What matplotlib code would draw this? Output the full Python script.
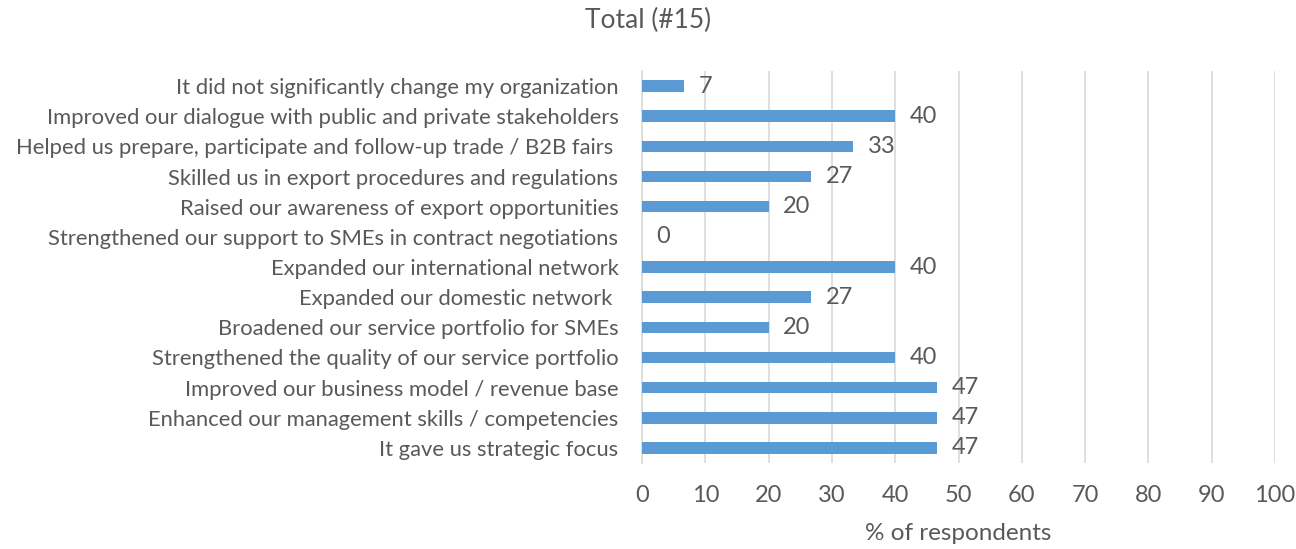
import matplotlib
matplotlib.use("Agg")
import matplotlib.pyplot as plt

plt.rcParams['font.family'] = ['Lato', 'DejaVu Sans']

categories = [
    "It did not significantly change my organization",
    "Improved our dialogue with public and private stakeholders",
    "Helped us prepare, participate and follow-up trade / B2B fairs ",
    "Skilled us in export procedures and regulations",
    "Raised our awareness of export opportunities",
    "Strengthened our support to SMEs in contract negotiations",
    "Expanded our international network",
    "Expanded our domestic network ",
    "Broadened our service portfolio for SMEs",
    "Strengthened the quality of our service portfolio",
    "Improved our business model / revenue base",
    "Enhanced our management skills / competencies",
    "It gave us strategic focus",
]
values = [6.67, 40.0, 33.33, 26.67, 20.0, 0.0, 40.0, 26.67, 20.0, 40.0, 46.67, 46.67, 46.67]
xticks = [0, 10, 20, 30, 40, 50, 60, 70, 80, 90, 100]

text_color = '#595959'
bar_color = '#5B9BD5'
grid_color = '#D9D9D9'
fs = 17

fig = plt.figure(figsize=(12.96, 5.49), dpi=100)
ax = fig.add_axes([0.4954, 0.1566, 0.4884, 0.7141])

n = len(categories)
ypos = list(range(n))[::-1]
ax.barh(ypos, values, height=0.38, color=bar_color, zorder=3)
for y, v in zip(ypos, values):
    ax.text(v + 2.3, y, f"{v:.0f}", va='center', ha='left', fontsize=fs, color=text_color)

ax.set_xlim(0, 100)
ax.set_ylim(-0.5, n - 0.5)
ax.set_yticks(ypos)
ax.set_yticklabels(categories, fontsize=15.8, color=text_color)
ax.set_xticks(xticks)
ax.set_xticklabels([str(t) for t in xticks], fontsize=fs, color=text_color)
ax.tick_params(axis='y', length=0, pad=17)
ax.tick_params(axis='x', length=0, pad=16)
ax.grid(axis='x', color=grid_color, linewidth=1.2, zorder=0)
for s in ['top', 'right', 'bottom']:
    ax.spines[s].set_visible(False)
ax.spines['left'].set_color(grid_color)
ax.spines['left'].set_linewidth(1.2)
ax.set_xlabel('% of respondents', fontsize=17.5, color=text_color, labelpad=12)
fig.suptitle('Total (#15)', fontsize=19, color=text_color, y=0.985)

fig.savefig('out.png', dpi=100)
